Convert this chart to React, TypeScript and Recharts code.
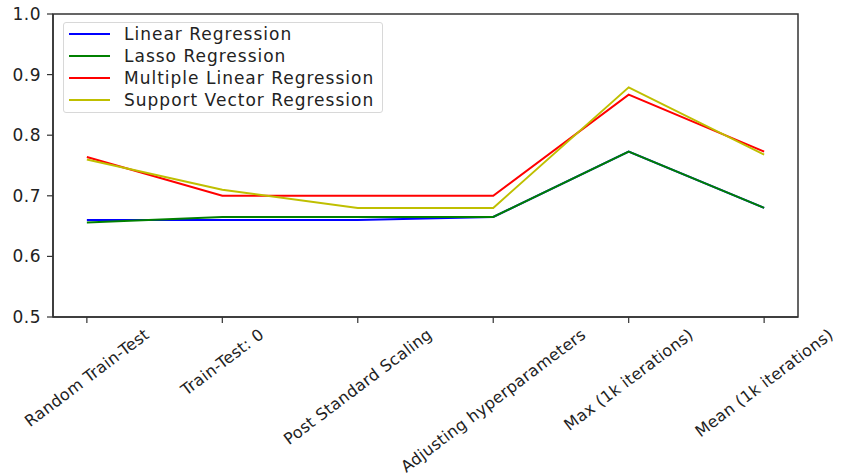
import { LineChart, Line, XAxis, YAxis, Legend, ReferenceArea } from "recharts";

const categories = [
  "Random Train-Test",
  "Train-Test: 0",
  "Post Standard Scaling",
  "Adjusting hyperparameters",
  "Max (1k iterations)",
  "Mean (1k iterations)",
];

const linearReg = [0.66, 0.66, 0.66, 0.665, 0.773, 0.68];
const lassoReg = [0.656, 0.665, 0.665, 0.665, 0.773, 0.68];
const multiLinearReg = [0.764, 0.7, 0.7, 0.7, 0.867, 0.773];
const svReg = [0.76, 0.71, 0.68, 0.68, 0.879, 0.768];

const yTicks = [0.5, 0.6, 0.7, 0.8, 0.9, 1.0];
const xTicks = categories.map((_, i) => i);

// matplotlib-ish 5% margin on both ends of the x range
const X_MIN = -0.25;
const X_MAX = categories.length - 1 + 0.25;

const SERIES = [
  { key: "linear", name: "Linear Regression", color: "#0000ff", values: linearReg },
  { key: "lasso", name: "Lasso Regression", color: "#008000", values: lassoReg },
  { key: "multi", name: "Multiple Linear Regression", color: "#ff0000", values: multiLinearReg },
  { key: "svr", name: "Support Vector Regression", color: "#bfbf00", values: svReg },
];

const FONT = '"DejaVu Sans", sans-serif';
const TICK_FS = 16;
const TICK_SP = 0.3;
const ANGLE = 37;

const data = categories.map((c, i) => {
  const row: Record<string, string | number> = { idx: i, name: c };
  SERIES.forEach((s) => (row[s.key] = s.values[i]));
  return row;
});

let ctx: CanvasRenderingContext2D | null = null;
const textWidth = (s: string) => {
  if (!ctx) ctx = document.createElement("canvas").getContext("2d");
  if (!ctx) return s.length * TICK_FS * 0.6;
  ctx.font = `${TICK_FS}px "DejaVu Sans"`;
  return ctx.measureText(s).width + TICK_SP * s.length;
};

// rotated label whose bounding box is centred under its tick (matplotlib ha="center")
const XTick = (props: any) => {
  const { x, y, payload } = props;
  const label = categories[Math.round(payload.value)] ?? "";
  const L = textWidth(label);
  const h = TICK_FS * 1.16;
  const r = (ANGLE * Math.PI) / 180;
  const H = L * Math.sin(r) + h * Math.cos(r);
  const cx = x;
  const cy = y + 2 + H / 2;
  return (
    <text
      x={cx}
      y={cy}
      textAnchor="middle"
      dominantBaseline="central"
      transform={`rotate(-${ANGLE} ${cx} ${cy})`}
      fontFamily={FONT}
      fontSize={TICK_FS}
      letterSpacing={TICK_SP}
      fill="#222"
    >
      {label}
    </text>
  );
};

const LegendBox = () => (
  <div
    style={{
      width: 318,
      height: 89,
      border: "1px solid #d8d8d8",
      borderRadius: 3,
      background: "rgba(255,255,255,0.85)",
      position: "relative",
      fontFamily: FONT,
      fontSize: 17,
      letterSpacing: 1,
      color: "#222",
      textAlign: "left",
    }}
  >
    {SERIES.map((s, i) => (
      <div
        key={s.key}
        style={{ position: "absolute", left: 0, top: i * 22, height: 22, width: "100%" }}
      >
        <div
          style={{
            position: "absolute",
            left: 5,
            top: 10,
            width: 41,
            height: 2,
            background: s.color,
          }}
        />
        <span style={{ position: "absolute", left: 60, top: 0, lineHeight: "22px", whiteSpace: "nowrap" }}>
          {s.name}
        </span>
      </div>
    ))}
  </div>
);

export default function App() {
  return (
    <div style={{ position: "absolute", left: 0, top: 0, background: "#fff" }}>
      <LineChart
        width={844}
        height={475}
        data={data}
        margin={{ top: 14, right: 46, bottom: 0, left: 0 }}
      >
        <XAxis
          dataKey="idx"
          type="number"
          domain={[X_MIN, X_MAX]}
          ticks={xTicks}
          allowDataOverflow
          height={158}
          interval={0}
          tickSize={6}
          tickMargin={0}
          stroke="#333"
          strokeWidth={1.5}
          tickLine={{ stroke: "#333", strokeWidth: 1.2 }}
          tick={<XTick />}
        />
        <YAxis
          domain={[0.5, 1.0]}
          ticks={yTicks}
          width={53}
          tickSize={6}
          tickMargin={6}
          stroke="#333"
          strokeWidth={1.5}
          tickLine={{ stroke: "#333", strokeWidth: 1.2 }}
          tickFormatter={(v: number) => v.toFixed(1)}
          tick={{ fontFamily: FONT, fontSize: 17, fill: "#222", letterSpacing: 0.5 }}
          allowDataOverflow
        />
        {/* full frame (top and right spines) */}
        <ReferenceArea
          x1={X_MIN}
          x2={X_MAX}
          y1={0.5}
          y2={1.0}
          fill="none"
          fillOpacity={0}
          stroke="#333"
          strokeWidth={1.5}
          strokeOpacity={1}
        />
        <Legend
          content={<LegendBox />}
          layout="horizontal"
          verticalAlign="middle"
          align="center"
          wrapperStyle={{ position: "absolute", top: 22, left: 63, width: 320, height: 91 }}
        />
        {SERIES.map((s) => (
          <Line
            key={s.key}
            dataKey={s.key}
            name={s.name}
            stroke={s.color}
            strokeWidth={2}
            dot={false}
            activeDot={false}
            isAnimationActive={false}
          />
        ))}
      </LineChart>
    </div>
  );
}
